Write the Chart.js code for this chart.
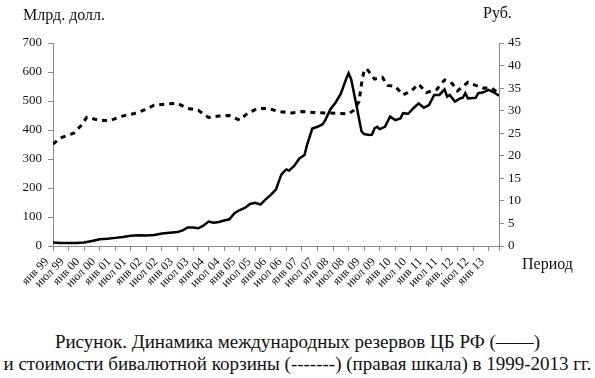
<!DOCTYPE html>
<html>
<head>
<meta charset="utf-8">
<script src="https://cdn.jsdelivr.net/npm/chart.js@4/dist/chart.umd.min.js"></script>
<style>
    body { margin: 0; background: #fff; }
    #wrap { position: relative; width: 595px; height: 378px; font-family: "Liberation Serif", serif; color: #111; }
    #chart { position: absolute; left: 0; top: 0; }
    .lbl { position: absolute; font-size: 16px; white-space: nowrap; }
    #caption { position: absolute; left: 0; top: 331px; width: 595px; text-align: center; font-size: 19px; line-height: 22px; }
</style>
</head>
<body>
<div id="wrap">
    <canvas id="chart" width="595" height="300"></canvas>
    <div class="lbl" style="left:23px; top:6px;">Млрд. долл.</div>
    <div class="lbl" style="left:483px; top:4px;">Руб.</div>
    <div class="lbl" style="left:522px; top:255px;">Период</div>
    <div id="caption">Рисунок. Динамика международных резервов ЦБ РФ (——)<br>и стоимости бивалютной корзины (-------) (правая шкала) в 1999-2013 гг.</div>
</div>
<script>
// x values are month numbers counted from январь 1999 (0)
const tickLabels = ['янв 99', 'июл 99', 'янв 00', 'июл 00', 'янв 01', 'июл 01', 'янв 02', 'июл 02',
    'янв 03', 'июл 03', 'янв 04', 'июл 04', 'янв 05', 'июл 05', 'янв 06', 'июл 06', 'янв 07', 'июл 07',
    'янв 08', 'июл 08', 'янв 09', 'июл 09', 'янв 10', 'июл 10', 'янв 11', 'июл 11', 'янв. 12', 'июл 12', 'янв 13'];
const lastMonth = 172;

// international reserves, bn USD (left scale)
const reserveMonths = [0, 3, 6, 9, 12, 15, 18, 21, 24, 27, 30, 33, 36, 39, 42, 45, 48, 50, 52, 54, 56, 58,
    60, 62, 64, 66, 68, 70, 72, 74, 76, 78, 80, 82, 84, 86, 88, 89, 90, 91, 93, 95, 97, 98, 100, 102, 104,
    105, 107, 109, 111, 113, 114, 115, 116, 117, 118, 119, 120, 122, 123, 124, 125, 126, 128, 130, 132, 134,
    135, 137, 139, 141, 143, 145, 147, 149, 151, 152, 153, 155, 157, 158, 159, 160, 163, 164, 166, 168, 170, 172];
const reserveValues = [12, 10, 10, 10, 12, 17, 23, 25, 28, 31, 35, 37, 36, 38, 43, 46, 48, 54, 64, 64, 61, 70,
    84, 80, 83, 88, 92, 113, 124, 131, 145, 149, 143, 161, 176, 195, 245, 256, 264, 260, 276, 302, 314, 350, 405, 411, 420,
    434, 472, 495, 525, 575, 596, 575, 530, 486, 440, 395, 386, 383, 384, 406, 411, 403, 411, 446, 434, 440,
    458, 456, 475, 492, 477, 486, 521, 521, 540, 515, 521, 498, 509, 511, 527, 509, 511, 527, 530, 538, 530, 518];

// dual-currency basket, RUB (right scale)
const basketMonths = [0, 3, 5, 8, 11, 13, 15, 18, 22, 26, 31, 35, 39, 44, 48, 52, 56, 60, 64, 68, 72, 75, 79,
    83, 87, 92, 96, 100, 105, 110, 114, 116, 118, 119, 120, 121, 124, 127, 129, 132, 135, 138, 141, 144, 148,
    151, 154, 156, 160, 163, 166, 169, 172];
const basketValues = [22.6, 24, 24.4, 25, 26.8, 28.5, 28.3, 27.8, 27.8, 28.7, 29.3, 30.1, 31.2, 31.5, 31.6, 30.5, 30.1,
    28.5, 28.8, 28.9, 27.9, 29.4, 30.5, 30.5, 29.8, 29.5, 29.8, 29.6, 29.5, 29.4, 29.3, 30.1, 32, 36, 39, 39.3,
    37, 37.4, 35.6, 35.4, 33.5, 34.3, 35.9, 34, 34.7, 36.8, 36, 34.4, 36.3, 35.6, 35, 35.1, 33.8];

const axisColor = '#8a8a8a';
const tickFont = { family: 'Liberation Serif', size: 13 };

function monthLabel(v) {
    const m = Math.round(v);
    if (Math.abs(v - m) > 0.01 || m % 6 !== 0) return '';
    return tickLabels[m / 6] || '';
}

const ctx = document.getElementById('chart').getContext('2d');
new Chart(ctx, {
    type: 'line',
    data: {
        datasets: [{
            label: 'Резервы',
            data: reserveMonths.map((m, i) => ({ x: m, y: reserveValues[i] })),
            borderColor: '#000',
            borderWidth: 2.5,
            pointRadius: 0,
            tension: 0,
            yAxisID: 'y'
        }, {
            label: 'Корзина',
            data: basketMonths.map((m, i) => ({ x: m, y: basketValues[i] })),
            borderColor: '#000',
            borderWidth: 3,
            borderDash: [5, 5],
            pointRadius: 0,
            tension: 0,
            yAxisID: 'y2'
        }]
    },
    options: {
        responsive: false,
        animation: false,
        devicePixelRatio: 1,
        layout: { padding: { top: 43, left: 0, right: 0, bottom: 0 } },
        plugins: { legend: { display: false }, tooltip: { enabled: false } },
        scales: {
            x: {
                type: 'linear',
                min: 0,
                max: lastMonth,
                afterBuildTicks: scale => {
                    // a tick every six months plus one at the end of the axis
                    scale.ticks = tickLabels.map((_, i) => ({ value: i * 6 })).concat([{ value: lastMonth }]);
                },
                afterFit: scale => { scale.height = 54; },
                border: { color: axisColor, width: 1 },
                grid: { drawOnChartArea: false, tickLength: 5, color: axisColor },
                ticks: {
                    autoSkip: false,
                    minRotation: 45,
                    maxRotation: 45,
                    padding: 4,
                    labelOffset: -6,
                    color: '#111',
                    font: { family: 'Liberation Serif', size: 12 },
                    callback: monthLabel
                }
            },
            y: {
                position: 'left',
                min: 0,
                max: 700,
                afterFit: scale => { scale.width = 53; },
                border: { color: axisColor, width: 1 },
                grid: { drawOnChartArea: false, tickLength: 5, color: axisColor },
                ticks: { stepSize: 100, padding: 6, color: '#111', font: tickFont }
            },
            y2: {
                position: 'right',
                min: 0,
                max: 45,
                afterFit: scale => { scale.width = 96; },
                border: { color: axisColor, width: 1 },
                grid: { drawOnChartArea: false, tickLength: 5, color: axisColor },
                ticks: { stepSize: 5, padding: 4, color: '#111', font: tickFont }
            }
        }
    }
});
</script>
</body>
</html>
